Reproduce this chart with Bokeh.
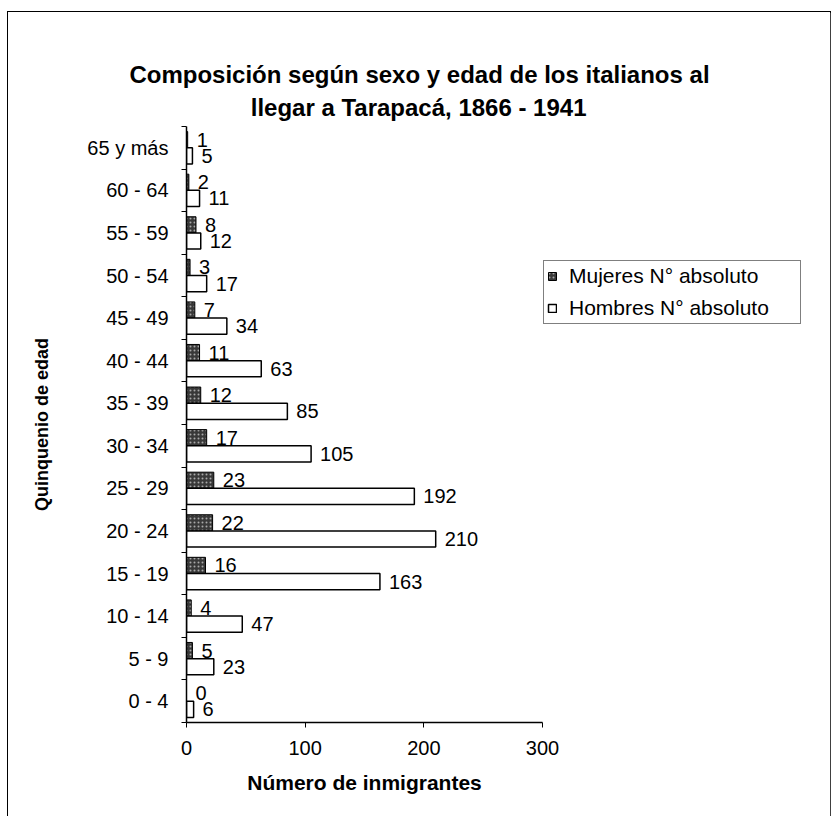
import numpy as np
from bokeh.plotting import figure
from bokeh.models import (ColumnDataSource, Range1d, FixedTicker, Legend, LegendItem, Title)
from bokeh.core.properties import value
from bokeh.embed import file_html
from bokeh.resources import INLINE

# ---- data ----
categories = ["0 - 4", "5 - 9", "10 - 14", "15 - 19", "20 - 24", "25 - 29", "30 - 34",
              "35 - 39", "40 - 44", "45 - 49", "50 - 54", "55 - 59", "60 - 64", "65 y más"]
mujeres = [0, 5, 4, 16, 22, 23, 17, 12, 11, 7, 3, 8, 2, 1]
hombres = [6, 23, 47, 163, 210, 192, 105, 85, 63, 34, 17, 12, 11, 5]
x_ticks = [0, 100, 200, 300]
title_lines = ["Composición según sexo y edad de los italianos al",
               "llegar a Tarapacá, 1866 - 1941"]

FONT = "Liberation Sans"

# approximate advance widths (1/1000 em) of Liberation Sans Bold, to centre the title
BOLD_W = {" ": 278, ",": 278, "-": 333, "C": 722, "T": 611, "a": 556, "c": 556, "d": 611,
          "e": 556, "g": 611, "i": 278, "l": 278, "m": 889, "n": 611, "o": 611, "p": 611,
          "r": 389, "s": 556, "t": 333, "x": 556, "y": 556, "á": 556, "ó": 611, "ú": 611}


def text_w(s, size):
    return sum(BOLD_W.get(ch, 556) for ch in s) / 1000 * size


n = len(categories)
centers = np.arange(n) + 0.5
bar_h = 0.38
src_m = ColumnDataSource(dict(y=centers + bar_h / 2, x=mujeres, t=[str(v) for v in mujeres]))
src_h = ColumnDataSource(dict(y=centers - bar_h / 2, x=hombres, t=[str(v) for v in hombres]))

# figure is shifted by CSS margin to (8, 12) on the page
OFF_X, OFF_Y = 8, 12
W, H = 822, 804
FRAME_L, FRAME_T, FRAME_R, FRAME_B = 186 - OFF_X, 126 - OFF_Y, 542 - OFF_X, 722 - OFF_Y
p = figure(frame_width=FRAME_R - FRAME_L, frame_height=FRAME_B - FRAME_T,
           output_backend="svg", toolbar_location=None,
           x_range=Range1d(0, 300), y_range=Range1d(0, n),
           min_border_left=FRAME_L, min_border_right=W - FRAME_R,
           min_border_top=FRAME_T, min_border_bottom=H - FRAME_B)
p.styles = {"margin-left": f"{OFF_X}px", "margin-top": f"{OFF_Y}px",
            "width": f"{W}px", "height": f"{H}px", "max-width": f"{W}px",
            "outline": "1.5px solid black"}
p.outline_line_color = None
p.xgrid.visible = False
p.ygrid.visible = False

rm = p.hbar(y="y", right="x", left=0, height=bar_h, source=src_m,
            fill_color="#383838", line_color="black", line_width=1,
            hatch_pattern="dot", hatch_color="#a8a8a8", hatch_scale=4, hatch_weight=1)
rh = p.hbar(y="y", right="x", left=0, height=bar_h, source=src_h,
            fill_color="white", line_color="black", line_width=1.5)

for s in (src_m, src_h):
    p.text(x="x", y="y", text="t", source=s, x_offset=9, text_baseline="middle",
           text_align="left", text_font=value(FONT), text_font_size="20px",
           text_color="black")

# axes
xa = p.xaxis[0]
xa.ticker = FixedTicker(ticks=x_ticks, minor_ticks=[])
xa.major_tick_in = 0
xa.major_tick_out = 5
xa.minor_tick_line_color = None
xa.major_label_text_font = FONT
xa.major_label_text_font_size = "20px"
xa.major_label_text_color = "black"
xa.major_label_standoff = 13
xa.axis_label = "Número de inmigrantes"
xa.axis_label_text_font = FONT
xa.axis_label_text_font_style = "bold"
xa.axis_label_text_font_size = "21px"
xa.axis_label_text_color = "black"
xa.axis_label_standoff = 13
xa.axis_line_width = 1.5

ya = p.yaxis[0]
ya.ticker = FixedTicker(ticks=list(centers), minor_ticks=list(range(n + 1)))
ya.major_label_overrides = {float(c): lab for c, lab in zip(centers, categories)}
ya.major_tick_line_color = None
ya.major_tick_in = 0
ya.major_tick_out = 0
ya.minor_tick_in = 0
ya.minor_tick_out = 5
ya.minor_tick_line_color = "black"
ya.major_label_text_font = FONT
ya.major_label_text_font_size = "20px"
ya.major_label_text_color = "black"
ya.major_label_standoff = 13
ya.axis_label = "Quinquenio de edad"
ya.axis_label_text_font = FONT
ya.axis_label_text_font_style = "bold"
ya.axis_label_text_font_size = "18px"
ya.axis_label_text_color = "black"
ya.axis_label_standoff = 32
ya.axis_line_width = 1.5

legend = Legend(items=[LegendItem(label="Mujeres N° absoluto", renderers=[rm]),
                       LegendItem(label="Hombres N° absoluto", renderers=[rh])],
                location=(1, 722 - 324), orientation="vertical",
                label_text_font=FONT, label_text_font_size="21px", label_text_color="black",
                glyph_width=10, glyph_height=10, label_standoff=12, label_width=228,
                label_height=22, spacing=8, padding=3, margin=0,
                border_line_color="black", border_line_width=1.5,
                background_fill_color="white", background_fill_alpha=1)
p.add_layout(legend, "right")

# two centred title lines (line nearest the frame added first)
TITLE_SIZE = 24
page_center = 419
for line, standoff in ((title_lines[1], 8), (title_lines[0], 0)):
    w = text_w(line, TITLE_SIZE)
    p.add_layout(Title(text=line, align="left", offset=(page_center - w / 2) - 186,
                       text_font=FONT, text_font_style="bold",
                       text_font_size=f"{TITLE_SIZE}px", text_color="black",
                       standoff=standoff, vertical_align="top"), "above")

open("out.html", "w").write(file_html(p, INLINE))
